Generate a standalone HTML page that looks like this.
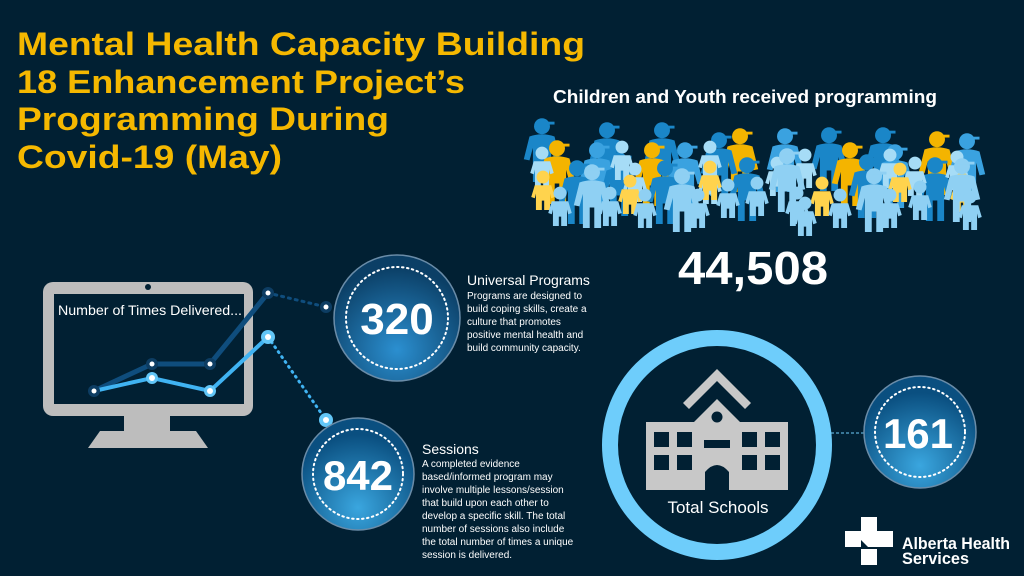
<!DOCTYPE html>
<html><head><meta charset="utf-8"><style>
html,body{margin:0;padding:0;background:#012033;}
svg{display:block}
</style></head><body>
<svg width="1024" height="576" viewBox="0 0 1024 576" xmlns="http://www.w3.org/2000/svg" font-family="Liberation Sans, sans-serif">
<defs>
<symbol id="ad" viewBox="-16 -58 32 58" overflow="visible">
<circle cx="0" cy="-49" r="7"/>
<rect x="-2" y="-53" width="13" height="2.5"/>
<path d="M-11,-40 Q0,-44 11,-40 L16,-20 L11,-19 L8,-30 L8,0 L2,0 L2,-18 L-2,-18 L-2,0 L-8,0 L-8,-30 L-11,-19 L-16,-20 Z"/>
</symbol>
<symbol id="ch" viewBox="-10 -34 20 34" overflow="visible">
<circle cx="0" cy="-28" r="5.5"/>
<path d="M-7,-21 L7,-21 L10,-11 L7,-10 L6,-14 L6,0 L1,0 L1,-8 L-1,-8 L-1,0 L-6,0 L-6,-14 L-7,-10 L-10,-11 Z"/>
</symbol>
<radialGradient id="g1" cx="50%" cy="75%" r="65%"><stop offset="0" stop-color="#2b8fd0"/><stop offset="1" stop-color="#0b3f66"/></radialGradient>
<radialGradient id="g2" cx="50%" cy="80%" r="65%"><stop offset="0" stop-color="#3aa6df"/><stop offset="1" stop-color="#0a4f80"/></radialGradient>
</defs>

<g fill="#f5b800" font-weight="bold" font-size="32">
<text x="17" y="55" textLength="568" lengthAdjust="spacingAndGlyphs">Mental Health Capacity Building</text>
<text x="17" y="93" textLength="448" lengthAdjust="spacingAndGlyphs">18 Enhancement Project’s</text>
<text x="17" y="130" textLength="372" lengthAdjust="spacingAndGlyphs">Programming During</text>
<text x="17" y="168" textLength="265" lengthAdjust="spacingAndGlyphs">Covid-19 (May)</text>
</g>

<text x="553" y="103" fill="#fff" font-weight="bold" font-size="18" textLength="384" lengthAdjust="spacingAndGlyphs">Children and Youth received programming</text>

<g>
<use href="#ad" x="523" y="116" width="38" height="66" fill="#1a86c8"/>
<use href="#ad" x="588" y="120" width="38" height="66" fill="#1a86c8"/>
<use href="#ad" x="643" y="120" width="38" height="66" fill="#1a86c8"/>
<use href="#ad" x="721" y="126" width="38" height="66" fill="#f4b400"/>
<use href="#ad" x="766" y="126" width="38" height="66" fill="#3aa2e0"/>
<use href="#ad" x="810" y="125" width="38" height="66" fill="#1a86c8"/>
<use href="#ad" x="864" y="125" width="38" height="66" fill="#1a86c8"/>
<use href="#ad" x="918" y="129" width="38" height="66" fill="#f4b400"/>
<use href="#ad" x="948" y="131" width="38" height="66" fill="#3aa2e0"/>
<use href="#ad" x="538" y="138" width="38" height="66" fill="#f4b400"/>
<use href="#ad" x="578" y="140" width="38" height="66" fill="#3aa2e0"/>
<use href="#ad" x="633" y="140" width="38" height="66" fill="#f4b400"/>
<use href="#ad" x="666" y="140" width="38" height="66" fill="#3aa2e0"/>
<use href="#ad" x="831" y="140" width="38" height="66" fill="#f4b400"/>
<use href="#ad" x="876" y="142" width="38" height="66" fill="#3aa2e0"/>
<use href="#ad" x="700" y="130" width="38" height="66" fill="#1a86c8"/>
<use href="#ad" x="848" y="152" width="38" height="66" fill="#1a86c8"/>
<use href="#ad" x="916" y="155" width="38" height="66" fill="#1a86c8"/>
<use href="#ad" x="558" y="158" width="38" height="66" fill="#1a86c8"/>
<use href="#ad" x="646" y="158" width="38" height="66" fill="#1a86c8"/>
<use href="#ad" x="728" y="155" width="38" height="66" fill="#1a86c8"/>
<use href="#ad" x="600" y="150" width="38" height="66" fill="#1a86c8"/>
</g>
<g fill="#a6dcf6">
<use href="#ch" x="530" y="146" width="24" height="40"/>
<use href="#ch" x="610" y="140" width="24" height="40"/>
<use href="#ch" x="698" y="140" width="24" height="40"/>
<use href="#ch" x="793" y="148" width="24" height="40"/>
<use href="#ch" x="878" y="148" width="24" height="40"/>
<use href="#ch" x="945" y="150" width="24" height="40"/>
<use href="#ch" x="765" y="156" width="24" height="40"/>
<use href="#ch" x="623" y="162" width="24" height="40"/>
<use href="#ch" x="698" y="164" width="24" height="40"/>
<use href="#ch" x="903" y="156" width="24" height="40"/>
</g>
<g fill="#ffd34d">
<use href="#ch" x="531" y="170" width="24" height="40"/>
<use href="#ch" x="618" y="174" width="24" height="40"/>
<use href="#ch" x="698" y="160" width="24" height="40"/>
<use href="#ch" x="810" y="176" width="24" height="40"/>
<use href="#ch" x="888" y="162" width="24" height="40"/>
<use href="#ch" x="950" y="172" width="24" height="40"/>
</g>
<g fill="#8fd0f3">
<use href="#ad" x="573" y="162" width="38" height="66"/>
<use href="#ad" x="663" y="166" width="38" height="66"/>
<use href="#ad" x="768" y="146" width="38" height="66"/>
<use href="#ad" x="855" y="166" width="38" height="66"/>
<use href="#ad" x="943" y="156" width="38" height="66"/>
<use href="#ch" x="548" y="186" width="24" height="40"/>
<use href="#ch" x="598" y="186" width="24" height="40"/>
<use href="#ch" x="633" y="188" width="24" height="40"/>
<use href="#ch" x="686" y="188" width="24" height="40"/>
<use href="#ch" x="716" y="178" width="24" height="40"/>
<use href="#ch" x="785" y="186" width="24" height="40"/>
<use href="#ch" x="793" y="196" width="24" height="40"/>
<use href="#ch" x="828" y="188" width="24" height="40"/>
<use href="#ch" x="878" y="188" width="24" height="40"/>
<use href="#ch" x="908" y="180" width="24" height="40"/>
<use href="#ch" x="958" y="190" width="24" height="40"/>
<use href="#ch" x="745" y="176" width="24" height="40"/>
</g>

<text x="753" y="284" fill="#fff" font-weight="bold" font-size="46" text-anchor="middle" textLength="150" lengthAdjust="spacingAndGlyphs">44,508</text>

<rect x="43" y="282" width="210" height="134" rx="10" fill="#bdbdbd"/>
<rect x="54" y="294" width="190" height="110" fill="#012033"/>
<circle cx="148" cy="287" r="3" fill="#012033"/>
<rect x="124" y="416" width="46" height="17" fill="#bdbdbd"/>
<path d="M100,431 L196,431 L208,448 L88,448 Z" fill="#bdbdbd"/>
<text x="58" y="315" fill="#fff" font-size="14" textLength="184" lengthAdjust="spacingAndGlyphs">Number of Times Delivered...</text>

<polyline points="94,391 152,364 210,364 268,293" fill="none" stroke="#0f4d7d" stroke-width="5"/>
<polyline points="94,391 152,378 210,391 268,337" fill="none" stroke="#40b3f2" stroke-width="4"/>
<line x1="268" y1="293" x2="326" y2="307" stroke="#0f4d7d" stroke-width="3" stroke-dasharray="2 5" stroke-linecap="round"/>
<line x1="268" y1="337" x2="326" y2="420" stroke="#40b3f2" stroke-width="3" stroke-dasharray="1 5" stroke-linecap="round"/>
<g fill="#0d3d63">
<circle cx="94" cy="391" r="6"/><circle cx="152" cy="364" r="6"/><circle cx="210" cy="364" r="6"/><circle cx="268" cy="293" r="6"/><circle cx="326" cy="307" r="6"/>
</g>
<g fill="#62c6f7">
<circle cx="152" cy="378" r="6"/><circle cx="210" cy="391" r="6"/><circle cx="268" cy="337" r="7"/><circle cx="326" cy="420" r="7"/>
</g>
<g fill="#fff">
<circle cx="94" cy="391" r="2.5"/><circle cx="152" cy="364" r="2.5"/><circle cx="210" cy="364" r="2.5"/><circle cx="268" cy="293" r="2.5"/><circle cx="326" cy="307" r="2.5"/>
<circle cx="152" cy="378" r="3"/><circle cx="210" cy="391" r="3"/><circle cx="268" cy="337" r="3"/><circle cx="326" cy="420" r="3"/>
</g>

<circle cx="397" cy="318" r="63" fill="url(#g1)" stroke="#6a8ca8" stroke-width="1.5"/>
<circle cx="397" cy="318" r="51" fill="none" stroke="#fff" stroke-width="2" stroke-dasharray="1.5 3.5" stroke-linecap="round"/>
<text x="397" y="334" fill="#fff" font-weight="bold" font-size="44" text-anchor="middle">320</text>
<circle cx="358" cy="474" r="56" fill="url(#g2)" stroke="#6a8ca8" stroke-width="1.5"/>
<circle cx="358" cy="474" r="45" fill="none" stroke="#fff" stroke-width="2" stroke-dasharray="1.5 3.5" stroke-linecap="round"/>
<text x="358" y="490" fill="#fff" font-weight="bold" font-size="42" text-anchor="middle">842</text>

<g fill="#fff">
<text x="467" y="285" font-size="14">Universal Programs</text>
<g font-size="10">
<text x="467" y="299">Programs are designed to</text>
<text x="467" y="312">build coping skills, create a</text>
<text x="467" y="325">culture that promotes</text>
<text x="467" y="338">positive mental health and</text>
<text x="467" y="351">build community  capacity.</text>
</g>
<text x="422" y="454" font-size="14">Sessions</text>
<g font-size="10">
<text x="422" y="467">A completed evidence</text>
<text x="422" y="480">based/informed program may</text>
<text x="422" y="493">involve multiple lessons/session</text>
<text x="422" y="506">that build upon each other to</text>
<text x="422" y="519">develop a specific skill. The total</text>
<text x="422" y="532">number of sessions also include</text>
<text x="422" y="545">the total number of times a unique</text>
<text x="422" y="558">session is delivered.</text>
</g>
</g>

<circle cx="717" cy="445" r="107" fill="none" stroke="#6ecdfb" stroke-width="16"/>
<line x1="831" y1="433" x2="866" y2="433" stroke="#6ecdfb" stroke-width="1" stroke-dasharray="3 2"/>
<g fill="#c8c8c8">
<path d="M683,403 L717,369 L751,403 L745,409 L717,381 L689,409 Z"/>
<path d="M694,422 L717,399 L740,422 L788,422 L788,490 L729,490 L729,472 Q717,458 705,472 L705,490 L646,490 L646,422 Z"/>
</g>
<g fill="#012033">
<circle cx="717" cy="417" r="5.5"/>
<rect x="654" y="432" width="15" height="15"/><rect x="677" y="432" width="15" height="15"/><rect x="742" y="432" width="15" height="15"/><rect x="765" y="432" width="15" height="15"/>
<rect x="654" y="455" width="15" height="15"/><rect x="677" y="455" width="15" height="15"/><rect x="742" y="455" width="15" height="15"/><rect x="765" y="455" width="15" height="15"/>
<rect x="704" y="440" width="26" height="8"/>
</g>
<text x="718" y="513" fill="#fff" font-size="17" text-anchor="middle">Total Schools</text>

<circle cx="920" cy="432" r="56" fill="url(#g2)" stroke="#6a8ca8" stroke-width="1.5"/>
<circle cx="920" cy="432" r="45" fill="none" stroke="#fff" stroke-width="2" stroke-dasharray="1.5 3.5" stroke-linecap="round"/>
<text x="918" y="448" fill="#fff" font-weight="bold" font-size="42" text-anchor="middle">161</text>

<g fill="#fff">
<rect x="861" y="517" width="16" height="16"/>
<rect x="845" y="531" width="16" height="16"/>
<rect x="877" y="531" width="16" height="16"/>
<rect x="861" y="549" width="16" height="16"/>
<path d="M861,533 L877,533 L877,547 L868,547 L861,540 Z"/>
</g>
<g fill="#fff" font-weight="bold" font-size="17">
<text x="902" y="549" textLength="108" lengthAdjust="spacingAndGlyphs">Alberta Health</text>
<text x="902" y="564" textLength="67" lengthAdjust="spacingAndGlyphs">Services</text>
</g>
</svg>
</body></html>
